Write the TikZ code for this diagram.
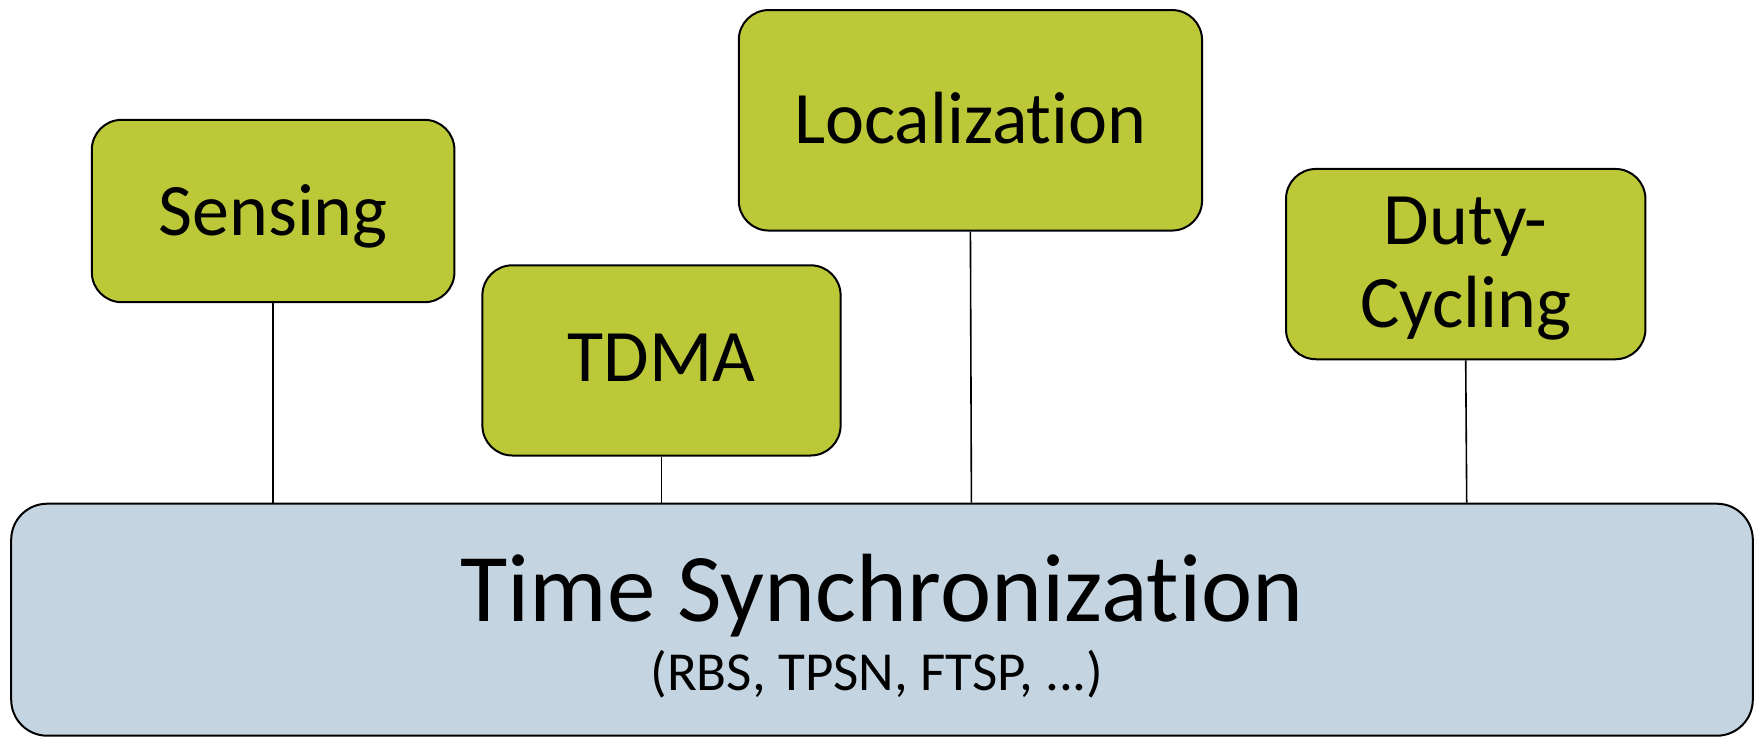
\documentclass[tikz,border=0pt]{standalone}
\usepackage{fontspec}
\setmainfont[RawFeature={-liga}]{Carlito}
\definecolor{boxgreen}{RGB}{188,200,55}
\definecolor{boxblue}{RGB}{196,213,225}
\begin{document}
\begin{tikzpicture}[x=1pt,y=-1pt,
  gbox/.style={draw=black, line width=2pt, fill=boxgreen, rounded corners=30pt, inner sep=0pt},
  bbox/.style={draw=black, line width=2pt, fill=boxblue, rounded corners=36pt, inner sep=0pt},
  lbl/.style={inner sep=0pt, text=black, font=\fontsize{74}{83}\selectfont},
  conn/.style={draw=black, line width=1.6pt}]
\useasboundingbox (0,0) rectangle (1755,737);
% main box
\node[bbox, minimum width=1741.6pt, minimum height=232pt] (ts) at (882,619.7) {};
\node[inner sep=0pt, anchor=base, font=\fontsize{97}{110}\selectfont] (tst) at (882,621.7) {Time Synchronization};
\node[inner sep=0pt, anchor=base, font=\fontsize{55}{62}\selectfont] (tss) at (877,690.8) {(RBS, TPSN, FTSP, ...)};
% green boxes
\node[gbox, minimum width=362.6pt, minimum height=182.4pt] (sens) at (273.1,211) {};
\node[lbl, anchor=base] (senst) at (273.1,235) {Sensing};
\node[gbox, minimum width=358.2pt, minimum height=190.2pt] (tdma) at (661.5,360.4) {};
\node[lbl, anchor=base] (tdmat) at (661.5,381.6) {TDMA};
\node[gbox, minimum width=463.3pt, minimum height=220.5pt] (loc) at (970.4,120.3) {};
\node[lbl, anchor=base] (loct) at (970.4,143.3) {Localization};
\node[gbox, minimum width=359.4pt, minimum height=190.3pt] (duty) at (1465.7,264.1) {};
\node[lbl, anchor=base, align=center] (dutyt) at (1465.7,327.5) {Duty-\\Cycling};
% connectors
\draw[conn] (sens.south) -- (sens.south |- ts.north);
\draw[conn] (tdma.south) -- (tdma.south |- ts.north);
\draw[conn] (loc.south) -- ([xshift=1pt]loc.south |- ts.north);
\draw[conn] (duty.south) -- ([xshift=1pt]duty.south |- ts.north);
\end{tikzpicture}
\end{document}
